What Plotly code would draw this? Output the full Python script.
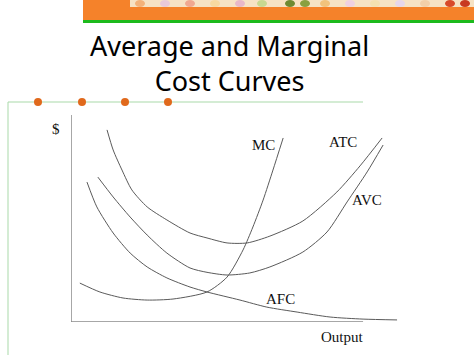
import plotly.graph_objects as go

# ---- data (output units on x, $ on y) ----
atc_x = [1.06, 1.24, 1.50, 1.79, 2.24, 2.82, 3.50, 4.00, 4.59, 5.18, 5.85, 6.82, 7.82, 8.50, 9.15]
atc_y = [9.28, 8.31, 7.34, 6.38, 5.56, 4.93, 4.30, 4.06, 3.82, 3.82, 4.15, 4.88, 6.28, 7.54, 8.89]

avc_x = [0.79, 1.24, 1.74, 2.24, 2.82, 3.50, 4.00, 4.59, 5.26, 5.85, 6.82, 7.53, 8.12, 8.71, 9.18]
avc_y = [7.00, 6.04, 5.07, 4.20, 3.33, 2.61, 2.40, 2.27, 2.37, 2.66, 3.38, 4.35, 5.80, 7.25, 8.55]

afc_x = [0.47, 0.76, 1.24, 1.74, 2.24, 2.82, 3.50, 4.00, 4.97, 5.76, 6.65, 7.62, 8.59, 9.59]
afc_y = [6.76, 5.56, 4.30, 3.33, 2.66, 2.13, 1.69, 1.45, 1.06, 0.72, 0.48, 0.24, 0.14, 0.10]

mc_x = [0.26, 0.85, 1.53, 2.24, 3.00, 4.00, 4.59, 5.06, 5.35, 5.65, 5.94, 6.24]
mc_y = [1.88, 1.45, 1.16, 1.06, 1.11, 1.45, 2.17, 3.48, 4.59, 5.89, 7.34, 8.89]

curve_labels = ["MC", "ATC", "AVC", "AFC"]
label_x = [5.65, 8.00, 8.71, 6.15]
label_y = [8.55, 8.70, 5.89, 1.11]

x_axis_end = 8.59
y_axis_end = 10.0

title_text = "Average and Marginal<br>Cost Curves"
x_title = "Output"
y_title = "$"

W, H = 474, 355


def px(x):
    return x / W


def py(y):
    return 1 - y / H


fig = go.Figure()
curve_color = "#5a5a5a"
for xs, ys in [(atc_x, atc_y), (avc_x, avc_y), (afc_x, afc_y), (mc_x, mc_y)]:
    fig.add_trace(go.Scatter(x=xs, y=ys, mode="lines",
                             line=dict(color=curve_color, width=1, shape="spline", smoothing=0.7),
                             hoverinfo="skip", showlegend=False))

shapes = []
# axes
shapes.append(dict(type="line", xref="x", yref="y", x0=0, y0=0, x1=x_axis_end, y1=0,
                   line=dict(color="#8a8a8a", width=1.5)))
shapes.append(dict(type="line", xref="x", yref="y", x0=0, y0=0, x1=0, y1=y_axis_end,
                   line=dict(color="#8a8a8a", width=1.5)))

# top decorative band
shapes.append(dict(type="rect", xref="paper", yref="paper", x0=px(83), x1=px(474), y0=py(20), y1=py(0),
                   fillcolor="#F5822A", line=dict(width=0), layer="below"))
shapes.append(dict(type="rect", xref="paper", yref="paper", x0=px(130), x1=px(474), y0=py(7), y1=py(0),
                   fillcolor="#F6E2C4", line=dict(width=0), layer="below"))
spots = [(140, "#F3B27A"), (165, "#E9C9D8"), (190, "#F0A890"), (215, "#F7D9A0"), (240, "#E8B8C8"),
         (262, "#C8D890"), (290, "#6E8A32"), (305, "#8AA040"), (325, "#F1C27C"), (350, "#EFD0E0"),
         (375, "#F4E0B0"), (400, "#E6D6EA"), (425, "#F2CFA8"), (450, "#D84A2A"), (465, "#C83A20")]
for sx, sc in spots:
    shapes.append(dict(type="circle", xref="paper", yref="paper", x0=px(sx - 5), x1=px(sx + 5),
                       y0=py(7), y1=py(0), fillcolor=sc, line=dict(width=0), layer="below"))
shapes.append(dict(type="rect", xref="paper", yref="paper", x0=px(83), x1=px(474), y0=py(23), y1=py(20),
                   fillcolor="#1DBA1D", line=dict(width=0), layer="below"))

# green frame lines
shapes.append(dict(type="line", xref="paper", yref="paper", x0=px(8), x1=px(363), y0=py(102), y1=py(102),
                   line=dict(color="#A9D9A9", width=1)))
shapes.append(dict(type="line", xref="paper", yref="paper", x0=px(8), x1=px(8), y0=py(102), y1=py(355),
                   line=dict(color="#A9D9A9", width=1)))
for dx in [38, 82, 125, 168]:
    shapes.append(dict(type="circle", xref="paper", yref="paper", x0=px(dx - 4), x1=px(dx + 4),
                       y0=py(106), y1=py(98), fillcolor="#E0691C", line=dict(width=0)))

annotations = []
annotations.append(dict(text=title_text, xref="paper", yref="paper", x=px(229), y=py(63),
                        xanchor="center", yanchor="middle", showarrow=False, align="center",
                        font=dict(family="Noto Sans", size=27, color="#000000")))
serif = dict(family="Liberation Serif", size=15, color="#111111")
for t, lx, ly in zip(curve_labels, label_x, label_y):
    annotations.append(dict(text=t, x=lx, y=ly, xref="x", yref="y", showarrow=False,
                            xanchor="center", yanchor="middle", font=serif))
annotations.append(dict(text=x_title, x=px(342), y=py(337), xref="paper", yref="paper", showarrow=False,
                        xanchor="center", yanchor="middle", font=serif))
annotations.append(dict(text=y_title, x=px(56), y=py(129), xref="paper", yref="paper", showarrow=False,
                        xanchor="center", yanchor="middle", font=serif))

fig.update_layout(
    width=W, height=H, margin=dict(l=0, r=0, t=0, b=0),
    paper_bgcolor="white", plot_bgcolor="white",
    xaxis=dict(domain=[px(71), px(411)], range=[0, 10], showgrid=False, zeroline=False,
               showticklabels=False, showline=False, fixedrange=True),
    yaxis=dict(domain=[py(322), py(115)], range=[0, 10], showgrid=False, zeroline=False,
               showticklabels=False, showline=False, fixedrange=True),
    shapes=shapes, annotations=annotations, showlegend=False,
)
fig.write_html("out.html")
